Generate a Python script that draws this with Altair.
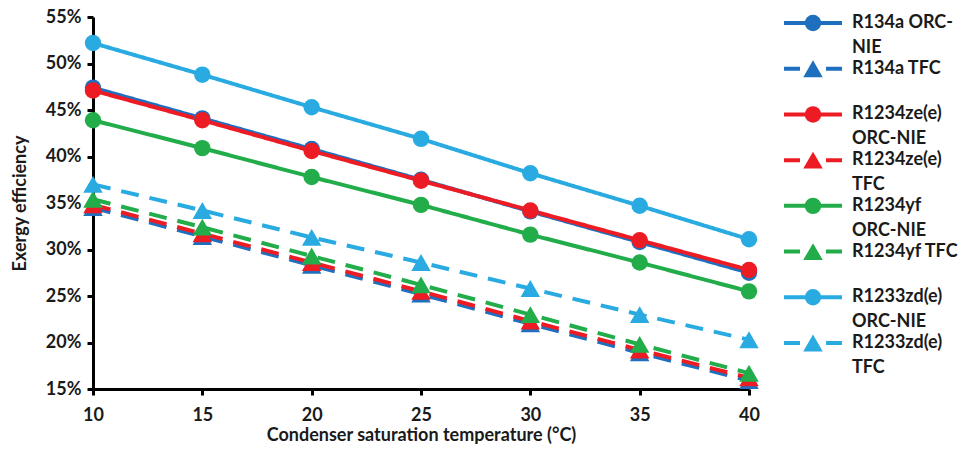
import altair as alt
import pandas as pd

# ---- data ----
temps = [10, 15, 20, 25, 30, 35, 40]
series_names = [
    "R134a ORC-NIE", "R134a TFC",
    "R1234ze(e) ORC-NIE", "R1234ze(e) TFC",
    "R1234yf ORC-NIE", "R1234yf TFC",
    "R1233zd(e) ORC-NIE", "R1233zd(e) TFC",
]
legend_labels = [
    "R134a ORC-\nNIE", "R134a TFC",
    "R1234ze(e)\nORC-NIE", "R1234ze(e)\nTFC",
    "R1234yf\nORC-NIE", "R1234yf TFC",
    "R1233zd(e)\nORC-NIE", "R1233zd(e)\nTFC",
]
series_types = ["ORC-NIE", "TFC"] * 4

r134a_orc = [47.4, 44.1, 40.8, 37.5, 34.1, 30.8, 27.5]
r134a_tfc = [34.5, 31.4, 28.3, 25.2, 22.0, 18.9, 15.9]
r1234ze_orc = [47.1, 43.9, 40.6, 37.4, 34.2, 31.0, 27.8]
r1234ze_tfc = [34.8, 31.7, 28.6, 25.5, 22.3, 19.2, 16.2]
r1234yf_orc = [43.9, 40.9, 37.8, 34.8, 31.6, 28.6, 25.5]
r1234yf_tfc = [35.4, 32.4, 29.3, 26.2, 23.0, 19.8, 16.7]
r1233zd_orc = [52.2, 48.8, 45.3, 41.9, 38.2, 34.7, 31.1]
r1233zd_tfc = [37.0, 34.2, 31.3, 28.6, 25.8, 23.0, 20.3]

series_values = [r134a_orc, r134a_tfc, r1234ze_orc, r1234ze_tfc,
                 r1234yf_orc, r1234yf_tfc, r1233zd_orc, r1233zd_tfc]
y_ticks = [0.15, 0.20, 0.25, 0.30, 0.35, 0.40, 0.45, 0.50, 0.55]

# ---- style ----
series_colors = ["#1F6FBF", "#1F6FBF", "#ED1C24", "#ED1C24",
                 "#22AC4A", "#22AC4A", "#29ABE2", "#29ABE2"]
FONT = "Lato"
TXT = "#1a1a1a"

rows = []
for i, (name, typ, vals) in enumerate(zip(series_names, series_types, series_values)):
    for t, v in zip(temps, vals):
        rows.append({"series": name, "type": typ, "T": t, "eff": v / 100.0, "idx": i})
df = pd.DataFrame(rows)

color = alt.Color("series:N", scale=alt.Scale(domain=series_names, range=series_colors), legend=None)
shape = alt.Shape("type:N", scale=alt.Scale(domain=["ORC-NIE", "TFC"], range=["circle", "triangle-up"]), legend=None)
size = alt.Size("type:N", scale=alt.Scale(domain=["ORC-NIE", "TFC"], range=[270, 380]), legend=None)

x_enc = alt.X(
    "T:Q",
    scale=alt.Scale(domain=[10, 40], nice=False, zero=False),
    axis=alt.Axis(
        values=temps, title="Condenser saturation temperature (°C)",
        labelFont=FONT, labelFontSize=18, labelFontWeight="bold", labelColor=TXT,
        titleFont=FONT, titleFontSize=18, titleFontWeight="bold", titleColor=TXT,
        labelPadding=11, titlePadding=2,
        domainColor="black", domainWidth=3, tickColor="black", tickWidth=3, tickSize=6,
        grid=False, labelFlush=False,
    ),
)
y_enc = alt.Y(
    "eff:Q",
    scale=alt.Scale(domain=[0.15, 0.55], nice=False, zero=False),
    axis=alt.Axis(
        values=y_ticks, format=".0%", title="Exergy efficiency",
        labelFont=FONT, labelFontSize=18, labelFontWeight="bold", labelColor=TXT,
        titleFont=FONT, titleFontSize=18, titleFontWeight="bold", titleColor=TXT,
        labelPadding=6, titlePadding=16,
        domainColor="black", domainWidth=3, tickColor="black", tickWidth=3, tickSize=6,
        grid=False, labelFlush=False,
    ),
)

base = alt.Chart(df)
lines = base.mark_line(strokeWidth=4).encode(
    x=x_enc, y=y_enc, color=color,
    strokeDash=alt.StrokeDash("type:N", scale=alt.Scale(domain=["ORC-NIE", "TFC"], range=[[1, 0], [18, 11]]), legend=None),
)
points = base.mark_point(filled=True, opacity=1).encode(
    x="T:Q", y="eff:Q", color=color, shape=shape, size=size,
)
main = alt.layer(lines, points).properties(width=656, height=372)

# ---- custom legend ----
leg_df = pd.DataFrame({"series": series_names, "label": legend_labels, "type": series_types})
ly = alt.Y("series:N", scale=alt.Scale(type="point", domain=series_names, range=[6, 326], padding=0), axis=None)
leg_base = alt.Chart(leg_df)
leg_solid = leg_base.mark_rule(strokeWidth=4).encode(
    x=alt.value(4), x2=alt.value(62), y=ly, color=color
).transform_filter(alt.datum.type == "ORC-NIE")
leg_dash = leg_base.mark_rule(strokeWidth=4, strokeDash=[16, 26]).encode(
    x=alt.value(4), x2=alt.value(62), y=ly, color=color
).transform_filter(alt.datum.type == "TFC")
leg_pts = leg_base.mark_point(filled=True, opacity=1).encode(
    x=alt.value(33), y=ly, color=color, shape=shape, size=size
)
leg_txt = leg_base.mark_text(
    align="left", baseline="middle", lineBreak="\n", lineHeight=25,
    font=FONT, fontSize=18, fontWeight="bold", color=TXT, dy=0,
).encode(x=alt.value(72), y=ly, text="label:N")
legend = alt.layer(leg_solid, leg_dash, leg_pts, leg_txt).properties(width=180, height=372)

chart = alt.hconcat(main, legend, spacing=31, bounds="flush").properties(
    padding={"left": 11, "top": 8, "right": 0, "bottom": 5},
    background="white",
).configure_view(stroke=None)

chart.save("out.html", embed_options={"renderer": "svg", "actions": False})
